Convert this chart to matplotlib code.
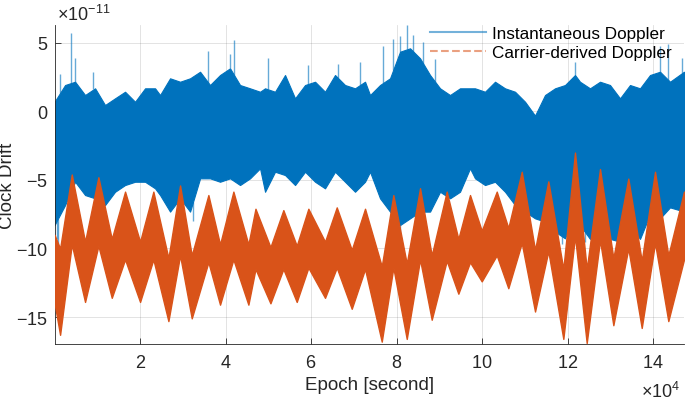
import matplotlib
matplotlib.use("Agg")
import matplotlib.pyplot as plt
from matplotlib.lines import Line2D
import numpy as np

plt.rcParams['font.family'] = ['Liberation Sans', 'DejaVu Sans']
plt.rcParams['axes.unicode_minus'] = False
plt.rcParams['mathtext.fontset'] = 'custom'
plt.rcParams['mathtext.rm'] = 'Liberation Sans'
plt.rcParams['mathtext.default'] = 'regular'

# values in units of 1e-11, epochs in seconds
blueEpoch = [0, 2460, 4800, 7140, 9480, 11810, 14150, 16490, 18830, 21170, 23510,
             24680, 27020, 29360, 31700, 34040, 36370, 38710, 41050, 43390, 45730, 48070,
             49240, 51580, 53920, 56260, 58600, 60940, 63270, 65610, 67950, 70290, 72630,
             73800, 76140, 78480, 80820, 83160, 85500, 87840, 90180, 92510, 94850, 97190,
             98360, 100700, 103040, 105380, 107720, 110060, 112400, 114740, 117080, 119420, 121750,
             122920, 125260, 127600, 129940, 132280, 134620, 136960, 139300, 141640, 143980, 147250]
blueUpper = [0.71, 1.93, 2.17, 1.20, 1.69, 0.47, 0.96, 1.44, 0.71, 1.69, 1.69,
             1.20, 2.42, 2.17, 2.42, 2.90, 1.93, 2.66, 3.15, 1.93, 1.69, 1.44,
             1.69, 1.44, 2.66, 0.96, 1.93, 2.17, 1.44, 2.66, 1.93, 1.69, 2.17,
             1.20, 1.93, 2.42, 4.36, 4.61, 3.88, 2.66, 1.69, 1.20, 1.69, 1.69,
             1.69, 1.44, 2.17, 1.69, 1.44, 0.71, -0.30, 1.20, 1.69, 1.93, 2.66,
             2.17, 1.69, 2.17, 1.93, 0.96, 1.93, 1.69, 2.66, 2.90, 2.17, 2.90]
blueLower = [-8.29, -6.83, -5.13, -6.10, -6.34, -6.83, -5.86, -5.37, -5.13, -5.13, -5.61,
             -6.10, -7.31, -6.34, -7.31, -4.88, -4.88, -5.13, -4.88, -5.37, -4.88, -4.15,
             -5.86, -4.40, -4.64, -5.37, -4.40, -5.13, -5.61, -4.40, -5.13, -5.86, -5.13,
             -4.40, -6.34, -7.31, -8.29, -7.80, -7.31, -7.31, -5.86, -6.34, -5.86, -4.15,
             -4.88, -5.37, -5.13, -5.86, -6.83, -7.31, -7.80, -8.04, -8.77, -9.26, -7.31,
             -8.30, -9.30, -8.00, -9.30, -9.50, -8.30, -9.30, -7.50, -7.80, -7.00, -7.30]

# tall single spikes of the instantaneous Doppler
spikeUpEpoch = [1290, 3860, 4800, 9080, 35980, 41050, 41990, 50010, 59370, 66390, 71460,
                76930, 79250, 80820, 82390, 83930, 86270, 89000, 121750, 141640, 143520, 146700]
spikeUpValue = [2.7, 5.7, 3.9, 2.9, 4.4, 4.2, 5.2, 3.9, 3.4, 3.5, 3.6,
                4.8, 5.3, 5.5, 6.3, 5.6, 5.1, 3.8, 3.6, 4.8, 4.9, 3.9]
spikeDownEpoch = [500, 800, 11350, 32400, 80820, 118700, 124000, 130000]
spikeDownValue = [-9.3, -9.8, -7.3, -8.0, -8.8, -9.7, -9.5, -10.0]

orangeEpoch = [0, 1290, 4020, 7130, 10250, 13380, 16490, 20000, 23110, 26630, 29360,
               32090, 35980, 38710, 41830, 45340, 47000, 50500, 53520, 56650, 59370,
               63270, 66010, 69520, 72630, 76540, 79250, 82390, 85500, 88230, 91740,
               94460, 97190, 99930, 103440, 106150, 109290, 112400, 115510, 119020, 121750,
               124490, 127600, 130720, 134220, 137360, 140470, 143580, 147250]
orangeUpper = [-9.0, -10.0, -4.6, -9.5, -4.8, -9.3, -5.85, -9.5, -5.85, -10.7, -5.4,
               -10.5, -6.1, -9.7, -5.85, -9.7, -7.1, -9.9, -7.2, -9.8, -7.1,
               -9.5, -7.0, -10.1, -7.1, -11.3, -6.1, -11.1, -5.6, -10.5, -5.85,
               -9.3, -6.1, -8.7, -5.85, -8.5, -4.4, -10.1, -5.1, -11.5, -3.0,
               -11.5, -4.2, -10.7, -4.9, -10.9, -4.4, -10.5, -5.85]
orangeLower = [-14.0, -16.3, -9.7, -13.9, -9.8, -13.6, -10.8, -13.9, -10.8, -15.3, -10.5,
               -15.1, -11.0, -14.1, -10.8, -14.1, -11.5, -14.0, -11.5, -13.9, -11.4,
               -13.6, -11.4, -14.4, -11.5, -16.8, -11.4, -16.6, -10.8, -15.2, -10.9,
               -13.3, -11.0, -12.4, -10.5, -12.9, -9.6, -14.6, -10.2, -16.6, -9.1,
               -16.9, -9.4, -15.6, -10.0, -15.8, -9.6, -15.3, -10.8]

xTicks = [20000, 40000, 60000, 80000, 100000, 120000, 140000]
yTicks = [-15, -10, -5, 0, 5]
scale = 1e-11

blueColor = '#0072BD'
orangeColor = '#D95319'
textColor = '#262626'

fig = plt.figure(figsize=(6.85, 4.02), dpi=100)
ax = fig.add_axes([55 / 685, 57 / 402, 629 / 685, 319 / 402])

# instantaneous Doppler
ax.fill_between(blueEpoch, np.array(blueLower) * scale, np.array(blueUpper) * scale,
                facecolor=blueColor, edgecolor=blueColor, linewidth=0.8, zorder=2)
ax.vlines(spikeUpEpoch, np.interp(spikeUpEpoch, blueEpoch, blueUpper) * scale,
          np.array(spikeUpValue) * scale, color=blueColor, alpha=0.6, lw=1, zorder=2)
ax.vlines(spikeDownEpoch, np.array(spikeDownValue) * scale,
          np.interp(spikeDownEpoch, blueEpoch, blueLower) * scale,
          color=blueColor, alpha=0.6, lw=1, zorder=2)

# carrier-derived Doppler
ax.fill_between(orangeEpoch, np.array(orangeLower) * scale, np.array(orangeUpper) * scale,
                facecolor=orangeColor, edgecolor=orangeColor, linewidth=1.0, zorder=3)

ax.set_xlim(100, 147250)
ax.set_ylim(-16.97 * scale, 6.31 * scale)
ax.set_xticks(xTicks)
ax.set_yticks(np.array(yTicks) * scale)
ax.ticklabel_format(axis='y', style='sci', scilimits=(-11, -11), useMathText=True)
ax.ticklabel_format(axis='x', style='sci', scilimits=(4, 4), useMathText=True)
ax.xaxis.get_offset_text().set_visible(False)
ax.yaxis.get_offset_text().set_visible(False)

ax.grid(True, color=textColor, alpha=0.15, lw=0.6, zorder=0)
ax.set_axisbelow(True)
for side in ['top', 'right']:
    ax.spines[side].set_visible(False)
for side in ['left', 'bottom']:
    ax.spines[side].set_color(textColor)
    ax.spines[side].set_linewidth(0.6)
ax.tick_params(direction='in', length=4, width=0.6, color=textColor,
               labelcolor=textColor, labelsize=13)
ax.tick_params(axis='x', pad=7)
ax.tick_params(axis='y', pad=5)

# exponent labels in the MATLAB places
fig.text(57 / 685, 1 - 21 / 402, r'$\times10^{-11}$', fontsize=13, color=textColor,
         ha='left', va='baseline')
fig.text(641 / 685, 1 - 398 / 402, r'$\times10^{4}$', fontsize=13, color=textColor,
         ha='left', va='baseline')

ax.set_xlabel('Epoch [second]', fontsize=13.5, color=textColor)
ax.set_ylabel('Clock Drift', fontsize=13.5, color=textColor)
ax.yaxis.set_label_coords(-0.062, 0.5)

handles = [Line2D([], [], color=blueColor, alpha=0.55, lw=1.5),
           Line2D([], [], color=orangeColor, alpha=0.55, lw=1.5, ls='--')]
ax.legend(handles, ['Instantaneous Doppler', 'Carrier-derived Doppler'],
          loc='upper right', bbox_to_anchor=(0.981, 0.997), frameon=False,
          fontsize=12.3, handlelength=3.3, handletextpad=0.35, labelspacing=0.25,
          borderpad=0, borderaxespad=0)

fig.savefig('out.png', dpi=100)
